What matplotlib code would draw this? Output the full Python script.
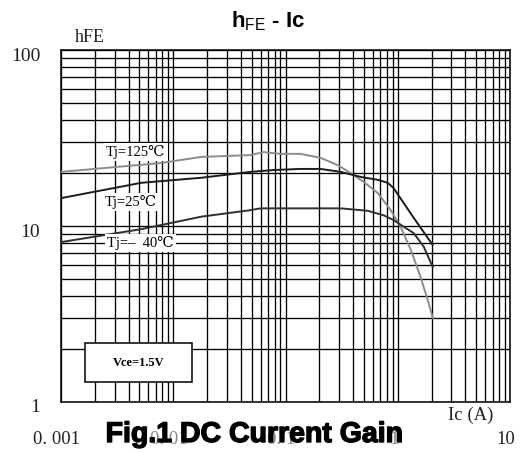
import numpy as np
import matplotlib
matplotlib.use('Agg')
import matplotlib.pyplot as plt
import matplotlib.ticker as mticker
import matplotlib.patheffects as pe
from matplotlib.patches import Rectangle
from matplotlib.transforms import ScaledTranslation

plt.rcParams['mathtext.fontset'] = 'custom'
plt.rcParams['mathtext.rm'] = 'Liberation Sans'
plt.rcParams['mathtext.bf'] = 'Liberation Sans:bold'

# hFE vs Ic
ic_125 = [0.001, 0.0078, 0.0178, 0.0487, 0.0636, 0.0903, 0.136, 0.205, 0.291,
          0.38, 0.497, 0.663, 0.866, 1.06, 1.31, 1.60, 1.85, 2.05]
hfe_125 = [20.3, 22.8, 24.7, 25.3, 26.3, 25.7, 25.7, 24.4, 22.2,
           20.0, 17.8, 15.4, 12.3, 9.9, 7.3, 5.1, 3.8, 3.0]

ic_25 = [0.001, 0.0052, 0.0178, 0.0487, 0.078, 0.136, 0.205, 0.31,
         0.468, 0.663, 0.814, 0.92, 1.13, 1.39, 1.71, 2.05]
hfe_25 = [14.4, 17.6, 18.8, 20.3, 20.8, 21.1, 21.1, 20.3,
          19.0, 18.3, 17.6, 16.4, 13.5, 11.1, 9.2, 7.8]

ic_m40 = [0.001, 0.0052, 0.0178, 0.0487, 0.0598, 0.096, 0.31, 0.54,
          0.75, 0.92, 1.13, 1.39, 1.71, 2.05]
hfe_m40 = [8.1, 9.6, 11.3, 12.3, 12.6, 12.6, 12.6, 12.2,
           11.5, 10.8, 9.9, 9.1, 7.6, 5.85]

xticks = [0.001, 0.01, 0.1, 1, 10]
xlabels = ['0. 001', '0. 01', '0. 1', '1', '10']
yticks = [1, 10, 100]
ylabels = ['1', '10', '100']

serif = ['Liberation Serif', 'DejaVu Serif']

fig = plt.figure(figsize=(5.24, 4.53), dpi=100)
ax = fig.add_axes([0.1164, 0.1126, 0.8569, 0.777])
ax.set_xscale('log')
ax.set_yscale('log')
ax.set_xlim(0.001, 10)
ax.set_ylim(1, 100)

ax.plot(ic_125, hfe_125, color='#8c8c8c', lw=1.4, zorder=3)
ax.plot(ic_25, hfe_25, color='#1c1c1c', lw=1.4, zorder=3)
ax.plot(ic_m40, hfe_m40, color='#303030', lw=1.4, zorder=3)

ax.xaxis.set_minor_locator(mticker.LogLocator(base=10, subs=np.arange(2, 10)))
ax.yaxis.set_minor_locator(mticker.LogLocator(base=10, subs=np.arange(2, 10)))
ax.xaxis.set_minor_formatter(mticker.NullFormatter())
ax.yaxis.set_minor_formatter(mticker.NullFormatter())
ax.grid(True, which='both', color='black', lw=0.95, zorder=1)
ax.set_axisbelow(True)
for s in ax.spines.values():
    s.set_linewidth(1.1)

ax.set_xticks(xticks, xlabels, fontfamily=serif, fontsize=13.5, color='#222222')
ax.set_yticks(yticks, ylabels, fontfamily=serif, fontsize=14, color='#222222')
ax.tick_params(which='both', length=0)
ax.tick_params(axis='x', pad=21)
ax.tick_params(axis='y', pad=15)
for lab in ax.get_xticklabels():
    lab.set_transform(lab.get_transform() + ScaledTranslation(-4 / 100, 0, fig.dpi_scale_trans))
for lab in ax.get_xticklabels()[1:4]:
    lab.set_color('#888888')
for lab in ax.get_yticklabels():
    lab.set_transform(lab.get_transform() + ScaledTranslation(0, -4 / 100, fig.dpi_scale_trans))

# curve labels
box = dict(boxstyle='square,pad=0.15', fc='white', ec='none')
ax.text(0.167, 0.710, 'Tj=125\u2103', transform=ax.transAxes, ha='center', va='center',
        fontfamily=serif, fontsize=10.5, bbox=box, zorder=4)
ax.text(0.156, 0.568, 'Tj=25\u2103', transform=ax.transAxes, ha='center', va='center',
        fontfamily=serif, fontsize=10.5, bbox=box, zorder=4)
ax.text(0.176, 0.452, 'Tj=\u2013  40\u2103', transform=ax.transAxes, ha='center', va='center',
        fontfamily=serif, fontsize=10.5, bbox=box, zorder=4)

# Vce box
ax.add_patch(Rectangle((0.053, 0.057), 0.238, 0.111, transform=ax.transAxes,
                       fc='white', ec='black', lw=1.1, zorder=4))
ax.text(0.172, 0.112, 'Vce=1.5V', transform=ax.transAxes, ha='center', va='center',
        fontfamily=serif, fontsize=9, fontweight='bold', zorder=5)

fig.text(0.512, 0.953, r'$\mathbf{h}_{\mathrm{FE}}$ - Ic', ha='center', va='center',
         fontfamily='Liberation Sans', fontweight='bold', fontsize=16)
fig.text(90 / 524, 1 - 37 / 453, 'hFE', ha='center', va='center',
         fontfamily=serif, fontsize=13, color='#222222')
fig.text(471 / 524, 1 - 415 / 453, 'Ic (A)', ha='center', va='center',
         fontfamily=serif, fontsize=13.5, color='#222222')
fig.text(254 / 524, 1 - 435 / 453, 'Fig.1 DC Current Gain', ha='center', va='center',
         fontfamily='Liberation Sans', fontweight='bold', fontsize=20.5,
         path_effects=[pe.withStroke(linewidth=1.0, foreground='black')])

fig.savefig('out.png', dpi=100)
